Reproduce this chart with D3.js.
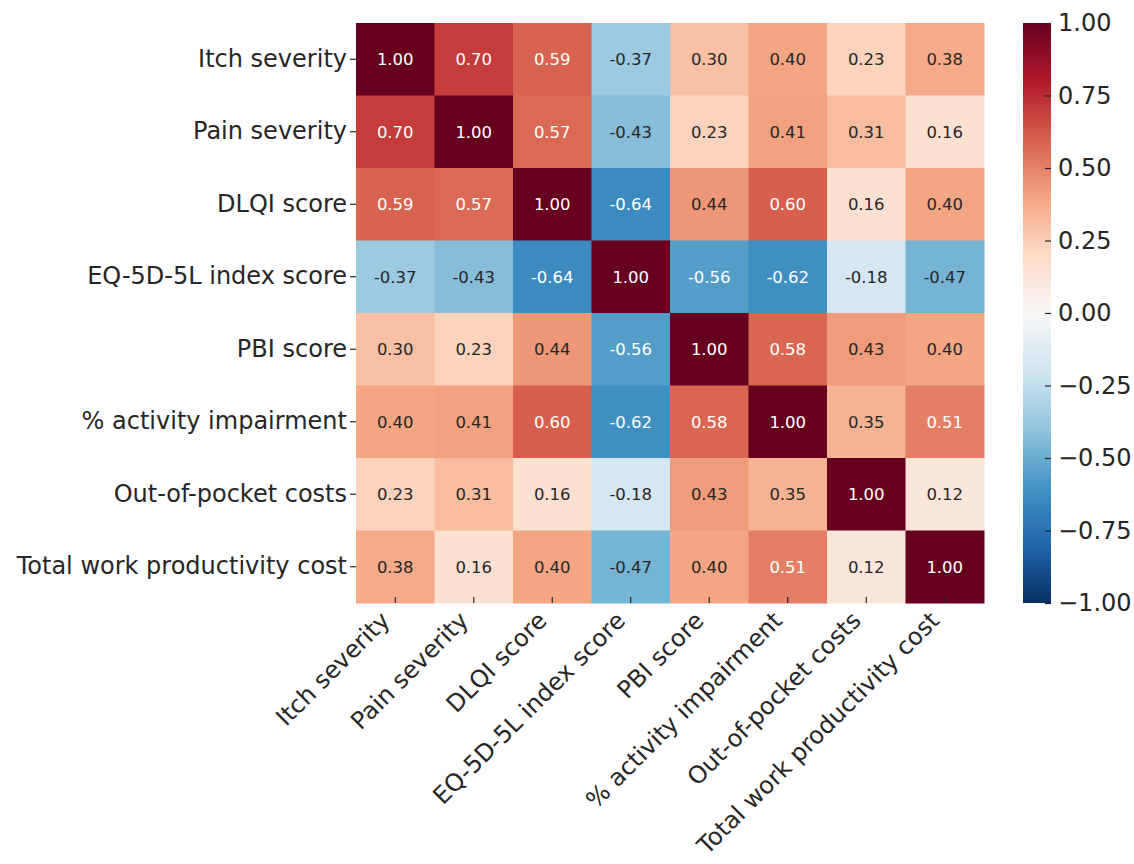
<!DOCTYPE html>
<html>
<head>
	<meta charset="utf-8">
	<title>correlation heatmap</title>
	<style>
		body { margin: 0; background: #fff; }
		text { font-family: "DejaVu Sans", sans-serif; }
	</style>
</head>
<body>
<div id="chart"></div>

<script src="https://cdn.jsdelivr.net/npm/d3@7"></script>
<script>

var labels = ['Itch severity', 'Pain severity', 'DLQI score', 'EQ-5D-5L index score',
	'PBI score', '% activity impairment', 'Out-of-pocket costs', 'Total work productivity cost'];

var row1 = [1.00, 0.70, 0.59, -0.37, 0.30, 0.40, 0.23, 0.38];
var row2 = [0.70, 1.00, 0.57, -0.43, 0.23, 0.41, 0.31, 0.16];
var row3 = [0.59, 0.57, 1.00, -0.64, 0.44, 0.60, 0.16, 0.40];
var row4 = [-0.37, -0.43, -0.64, 1.00, -0.56, -0.62, -0.18, -0.47];
var row5 = [0.30, 0.23, 0.44, -0.56, 1.00, 0.58, 0.43, 0.40];
var row6 = [0.40, 0.41, 0.60, -0.62, 0.58, 1.00, 0.35, 0.51];
var row7 = [0.23, 0.31, 0.16, -0.18, 0.43, 0.35, 1.00, 0.12];
var row8 = [0.38, 0.16, 0.40, -0.47, 0.40, 0.51, 0.12, 1.00];

var colorbarTicks = [-1.00, -0.75, -0.50, -0.25, 0.00, 0.25, 0.50, 0.75, 1.00];

// RdBu, reversed so -1 is blue
var rdbu = ['#053061', '#2166ac', '#4393c3', '#92c5de', '#d1e5f0', '#f7f7f7',
	'#fddbc7', '#f4a582', '#d6604d', '#b2182b', '#67001f'];

var rows = [row1, row2, row3, row4, row5, row6, row7, row8];

var width = 1134;
var height = 864;
var mapLeft = 356, mapTop = 23, mapRight = 984, mapBottom = 603;
var cbLeft = 1023, cbRight = 1051;
var textColor = '#262626';

var svg = d3.select('#chart')
	.append('svg')
	.attr('width', width)
	.attr('height', height);

var x = d3.scaleBand().domain(labels).range([mapLeft, mapRight]);
var y = d3.scaleBand().domain(labels).range([mapTop, mapBottom]);

var color = d3.scaleLinear()
	.domain(d3.range(11).map(function(i){ return -1 + i * 0.2; }))
	.range(rdbu)
	.interpolate(d3.interpolateRgb);

function luminance(c){
	var rgb = d3.rgb(c);
	var lin = [rgb.r, rgb.g, rgb.b].map(function(v){
		v = v / 255;
		return v <= 0.03928 ? v / 12.92 : Math.pow((v + 0.055) / 1.055, 2.4);
	});
	return 0.2126 * lin[0] + 0.7152 * lin[1] + 0.0722 * lin[2];
}

var cells = [];
rows.forEach(function(r, i){
	r.forEach(function(v, j){
		cells.push({row: labels[i], col: labels[j], value: v});
	});
});

svg.selectAll('.cell')
	.data(cells)
	.enter()
	.append('rect')
	.attr('class', 'cell')
	.attr('x', function(d){ return x(d.col); })
	.attr('y', function(d){ return y(d.row); })
	.attr('width', x.bandwidth() + 0.5)
	.attr('height', y.bandwidth() + 0.5)
	.attr('fill', function(d){ return color(d.value); });

svg.selectAll('.annot')
	.data(cells)
	.enter()
	.append('text')
	.attr('class', 'annot')
	.attr('x', function(d){ return x(d.col) + x.bandwidth() / 2; })
	.attr('y', function(d){ return y(d.row) + y.bandwidth() / 2; })
	.attr('dy', '0.36em')
	.attr('text-anchor', 'middle')
	.attr('font-size', 16.5)
	.attr('fill', function(d){ return luminance(color(d.value)) > 0.408 ? textColor : '#ffffff'; })
	.text(function(d){ return d.value.toFixed(2); });

// y axis
var yAxis = svg.append('g')
	.attr('transform', 'translate(' + mapLeft + ',0)')
	.call(d3.axisLeft(y).tickSize(6).tickPadding(3));
yAxis.select('.domain').remove();
yAxis.selectAll('line').attr('stroke', textColor).attr('stroke-width', 1.2);
yAxis.selectAll('text')
	.attr('font-size', 24)
	.attr('font-family', 'DejaVu Sans')
	.attr('fill', textColor);

// x axis, ticks point up into the cells
var xAxis = svg.append('g')
	.attr('transform', 'translate(0,' + mapBottom + ')')
	.call(d3.axisBottom(x).tickSize(-6).tickPadding(10));
xAxis.select('.domain').remove();
xAxis.selectAll('line').attr('stroke', textColor).attr('stroke-width', 1.2);
xAxis.selectAll('text')
	.attr('font-size', 24)
	.attr('font-family', 'DejaVu Sans')
	.attr('fill', textColor)
	.attr('text-anchor', 'end')
	.attr('y', 0)
	.attr('dy', 0)
	.attr('transform', 'translate(-4,19) rotate(-45)');

// colorbar
var defs = svg.append('defs');
var grad = defs.append('linearGradient')
	.attr('id', 'cbgrad')
	.attr('x1', 0).attr('y1', 1)
	.attr('x2', 0).attr('y2', 0);
grad.selectAll('stop')
	.data(d3.range(0, 1.0001, 0.02))
	.enter()
	.append('stop')
	.attr('offset', function(d){ return d; })
	.attr('stop-color', function(d){ return color(-1 + 2 * d); });

var cbScale = d3.scaleLinear().domain([-1, 1]).range([mapBottom, mapTop]);

svg.append('rect')
	.attr('x', cbLeft)
	.attr('y', mapTop)
	.attr('width', cbRight - cbLeft)
	.attr('height', mapBottom - mapTop)
	.attr('fill', 'url(#cbgrad)');

var cbAxis = svg.append('g')
	.attr('transform', 'translate(' + cbRight + ',0)')
	.call(d3.axisRight(cbScale)
		.tickValues(colorbarTicks)
		.tickSize(-6)
		.tickPadding(7)
		.tickFormat(function(d){ return d3.format('.2f')(d).replace('-', '\u2212'); }));
cbAxis.select('.domain').remove();
cbAxis.selectAll('line').attr('stroke', textColor).attr('stroke-width', 1.2);
cbAxis.selectAll('text')
	.attr('font-size', 24)
	.attr('font-family', 'DejaVu Sans')
	.attr('fill', textColor);

</script>
</body>
</html>
